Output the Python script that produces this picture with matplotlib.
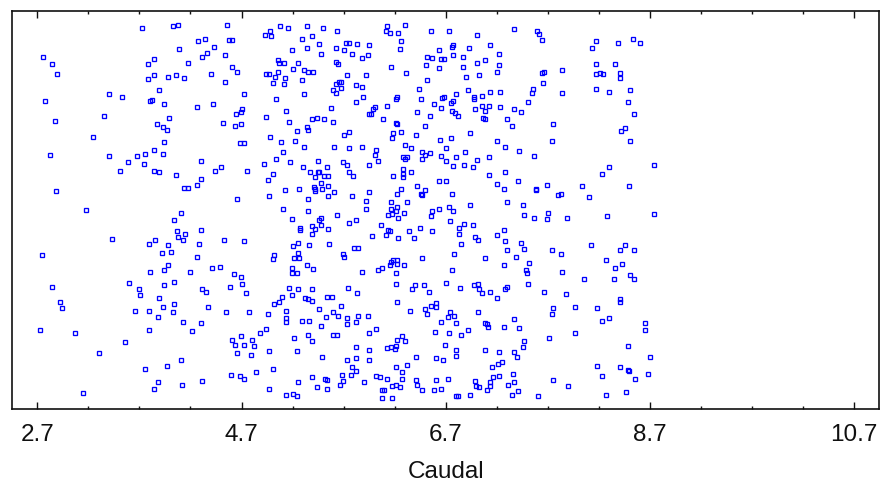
import matplotlib
matplotlib.use("Agg")
import matplotlib.pyplot as plt
import numpy as np

plt.rcParams['font.family'] = ['Liberation Sans', 'DejaVu Sans']

# values; the vertical spread is only jitter (no y axis shown)
caudal_a = [3.723,4.030,4.082,4.278,4.340,4.428,4.092,4.363,4.314,4.536,2.759,2.848,2.897,3.847,3.785,4.180,3.785,3.847,3.981,4.059,4.141,4.402,4.536,3.896,3.403,3.527,2.776,3.808,3.821,3.945,4.265,4.425,3.354,2.874,3.994,3.870,3.932,3.971,4.523,3.243,3.945,3.847,3.758,3.932,3.674,3.403,2.825,3.589,3.749,4.301,4.500,4.438,3.514,3.847,3.896,4.056,4.301,4.265,4.141,4.180,2.884]
jitter_a = [380.8,382.2,383.5,367.2,369.5,361.8,359.5,355.8,351.8,353.2,351.8,344.5,334.5,349.5,344.5,345.8,329.5,333.2,331.8,333.2,330.8,334.5,326.8,318.2,314.2,311.8,307.8,307.8,308.2,304.2,301.8,304.2,292.8,287.8,290.5,284.2,281.5,278.8,285.2,271.5,266.5,258.8,254.8,254.8,252.5,252.5,253.8,246.2,244.8,247.5,241.2,237.5,237.5,237.5,236.2,233.5,229.8,223.5,220.8,220.8,217.2]

caudal_b = [3.181,4.105,4.043,4.069,4.144,4.301,4.079,4.127,3.857,3.794,3.429,3.981,4.287,4.526,4.007,3.919,2.750,4.265,3.981,3.945,3.808,4.193,4.412,4.487,4.043,3.602,3.945,2.848,3.700,4.314,4.353,3.710,3.896,2.923,2.946,4.043,3.932,4.376,3.661,3.794,4.030,3.883,4.127,4.301,2.724,3.794,3.070,4.216,3.563,3.301,4.105,3.968,3.758,4.314,3.883,4.118,3.843,3.145]
jitter_b = [198.5,195.8,188.5,177.2,174.5,178.5,171.8,168.2,168.2,164.5,169.5,163.2,164.5,168.2,156.8,155.5,153.2,151.8,143.2,138.2,136.8,136.8,140.8,141.8,126.8,125.5,123.2,121.8,119.2,119.2,116.8,113.2,110.5,106.5,100.5,104.2,101.5,101.5,97.8,97.8,96.5,91.5,86.5,85.2,78.8,78.8,75.2,77.8,66.5,55.2,48.8,42.5,39.8,27.2,26.2,23.5,19.8,15.8]

caudal_c = [4.554,4.930,4.979,4.992,5.077,5.152,5.338,5.495,5.632,5.387,5.289,4.577,4.610,5.459,5.191,5.338,5.622,5.707,5.720,5.756,5.831,5.952,5.475,5.779,5.880,5.942,6.125,6.112,6.151,6.236,6.298,6.556,6.729,6.262,6.249,5.054,5.064,5.116,5.253,5.622,5.645,4.610,4.659,5.204,5.054,5.312,5.351,5.400,4.936,4.969,5.028,5.126,5.005,5.116,5.289,5.730,5.916,6.164,6.311,5.622,5.658,5.671,5.818,5.880,5.671,5.596,5.622,4.721,5.312,5.041,5.893,5.818,6.223,6.213,6.458,6.435,6.520,6.631,6.507,6.520,6.569,6.631,6.654,6.680,6.771,6.761,6.771,
            4.708,4.691,4.646,5.139,5.573,6.004,5.991,5.965,5.952,6.125,6.422,6.585,6.654,6.667,6.683,6.752,6.768,6.758,6.788,6.546,4.943,5.387,5.436,5.508,5.596,5.165,6.089,6.213,6.223,4.636,4.691,5.338,5.351,5.240,6.497,6.262,6.187,6.174,5.707,5.756,6.409,4.979,6.644,6.755,5.090,5.227,4.682,4.721,5.312,5.609,5.756,5.880,6.014,6.298,6.360,6.706,5.103,6.004,6.471,6.497,6.546,6.657,5.041,6.285,6.298,6.324,6.471,6.706,5.178,5.449,5.694,5.730,6.040,4.920,5.952,6.775,5.302,5.534,4.757,5.005,5.374,5.449,5.462,5.756,6.285,6.285,6.360,5.423,5.508,5.547,5.792,6.187,6.285,4.956,6.631,6.706,5.475,5.547,5.410,5.423,5.126,5.263,5.485,6.262,6.422,6.497,5.609,5.952,5.423,6.458,6.471,6.223,6.765,4.659,4.966,5.351,5.547,5.779,5.916,6.164,6.324]
jitter_c = [383.5,373.5,377.2,372.2,382.2,380.8,382.2,380.8,377.2,372.2,369.5,368.2,368.2,364.5,358.2,360.8,360.8,358.2,365.8,365.8,364.5,363.5,354.5,354.5,350.8,353.2,382.2,377.2,375.8,375.8,383.5,377.2,377.2,367.2,359.5,348.2,345.8,345.8,345.8,346.8,344.5,341.8,336.8,339.5,336.8,338.2,336.8,336.8,334.5,334.5,331.8,330.5,325.5,324.2,328.2,333.2,333.2,341.8,335.8,324.2,326.8,326.8,323.2,321.8,320.5,318.2,315.5,314.2,314.2,309.2,311.8,306.5,311.8,309.2,309.2,319.2,328.2,340.8,343.2,351.8,350.8,358.2,349.5,349.5,363.2,361.8,353.2,
            299.2,296.5,294.2,297.8,300.5,301.8,299.2,294.2,294.2,302.8,296.5,304.2,300.5,310.5,311.8,305.5,307.8,297.8,295.2,292.8,291.5,289.2,290.5,289.2,286.5,286.5,289.2,285.2,284.2,282.8,284.2,281.5,278.8,277.8,282.8,276.5,275.2,270.2,273.8,276.5,273.8,271.5,268.8,270.2,266.5,267.8,265.2,265.2,261.5,261.5,260.2,261.5,258.8,263.8,260.2,260.2,256.5,253.8,256.5,253.8,255.2,252.8,249.8,251.2,249.8,251.2,249.8,247.5,246.2,247.5,246.2,243.8,247.5,244.8,243.8,242.5,241.2,241.2,237.5,234.8,236.2,236.2,236.2,236.2,239.8,234.8,236.2,231.2,232.5,232.5,232.5,232.5,231.2,228.5,227.5,227.5,225.2,222.5,221.2,219.8,218.5,219.8,219.8,219.8,222.5,218.5,216.2,216.2,217.2,214.8,213.5,214.8,214.8,209.8,212.2,209.8,212.2,212.2,207.2,206.2,206.2]

caudal_d = [5.103,5.351,5.916,6.164,6.223,6.213,6.288,6.174,6.138,6.236,6.569,6.631,6.729,6.768,6.556,6.742,5.191,5.475,5.462,5.632,5.756,5.818,5.387,5.475,5.276,5.276,5.423,5.547,5.387,6.063,6.138,6.151,6.112,5.978,6.236,6.337,6.386,6.448,6.569,4.721,5.250,5.204,5.361,5.560,5.805,5.844,5.018,5.005,5.250,5.214,5.263,5.694,5.707,6.471,6.781,6.164,6.187,6.223,6.151,6.223,6.288,6.076,6.040,5.338,5.400,5.191,5.191,5.240,5.880,6.213,6.765,4.623,4.695,4.708,4.584,5.165,5.253,5.387,4.747,5.191,5.093,5.322,5.351,5.387,5.534,5.583,5.743,5.831,6.213,6.373,6.396,6.484,6.533,6.706,5.067,5.018,6.223,5.671,6.605,6.556,6.605,
            4.551,4.770,4.956,5.139,5.459,5.596,5.645,5.524,6.350,6.497,6.520,6.742,6.719,6.778,5.844,5.942,5.139,5.139,5.289,5.361,5.733,5.818,5.733,5.475,6.657,4.943,4.881,4.695,4.610,4.806,4.636,4.721,4.819,5.214,5.351,5.387,5.596,5.632,6.014,5.952,6.595,6.729,6.275,6.223,6.298,6.693,5.818,5.952,6.125,6.164,6.213,6.200,4.659,4.796,4.966,5.240,5.485,5.733,5.818,5.952,6.409,6.605,6.670,6.321,5.782,6.213,5.005,5.818,6.275,4.597,4.685,4.721,4.845,5.387,5.681,5.769,6.014,6.053,6.125,6.275,6.409,6.605,6.719,5.518,5.534,5.253,5.694,5.903,5.668,5.436,5.534,4.966,6.174,6.213,6.249,6.422,6.471,6.582,6.657,6.076,6.092,5.139,5.204,5.240,6.076,6.174,6.797]
jitter_d = [199.5,197.2,199.5,199.8,201.8,197.2,195.8,194.5,193.5,190.8,197.2,199.5,201.8,197.2,192.2,187.2,189.5,190.8,188.5,193.5,185.8,188.5,182.2,183.5,180.8,178.5,179.8,179.8,174.5,183.5,178.5,177.2,173.5,172.2,170.8,177.2,170.8,180.8,177.2,167.2,165.8,162.2,163.2,164.5,160.8,160.8,153.2,149.5,155.8,150.8,150.8,154.5,151.8,150.8,154.5,146.8,148.2,148.2,143.2,144.5,143.2,140.8,138.2,143.2,139.5,140.8,135.8,135.8,136.8,135.8,138.2,134.5,131.8,124.2,121.8,120.5,119.2,119.2,115.5,113.2,111.8,110.5,109.2,107.8,111.8,111.8,120.5,115.5,124.2,119.2,123.2,123.2,116.8,125.5,106.8,104.2,106.8,102.8,105.5,102.8,101.5,
            96.5,96.5,94.2,97.8,99.2,96.5,92.8,91.5,97.8,99.2,94.2,96.5,91.5,92.8,92.8,92.8,90.2,86.5,87.8,87.8,90.2,86.5,84.2,82.8,86.5,79.2,75.2,72.8,68.8,68.8,63.8,63.8,62.8,70.2,73.8,67.8,73.8,73.8,79.2,75.2,76.5,75.2,72.8,68.8,67.8,63.8,61.5,58.8,60.2,61.5,62.8,59.5,55.2,53.8,57.8,57.8,51.2,48.8,50.2,48.8,51.2,50.2,48.8,43.8,41.2,41.2,39.8,37.5,36.2,33.5,32.5,29.8,36.2,31.2,33.5,33.5,32.5,31.2,29.8,29.8,28.8,28.5,29.8,29.8,28.8,26.2,27.5,26.2,23.5,21.2,19.8,19.8,22.5,23.5,21.2,23.5,18.5,18.5,19.8,18.5,18.5,13.5,14.8,12.2,10.8,10.8,12.2]

caudal_e = [7.372,7.594,7.617,7.643,7.003,7.137,6.928,7.225,6.866,7.088,7.003,7.225,6.866,7.199,7.026,6.902,7.643,7.666,7.839,7.656,8.172,8.136,8.384,8.531,8.603,8.172,8.358,8.172,8.211,8.237,8.407,8.407,6.804,6.915,6.977,6.977,7.052,7.137,7.235,7.558,7.542,7.839,8.172,8.296,8.505,8.482,7.506,7.052,7.124,7.235,6.990,7.088,7.372,7.434,6.817,8.541,7.065,7.088,7.297,7.346,7.754,8.456,8.417,6.941,7.199,7.741,8.505,7.284,6.889,7.421,6.804,7.003,7.127,7.568,6.879,6.964,8.740,8.296,8.234,7.127,7.284,7.199,7.408,7.274,7.581,7.581,7.692,8.038,8.492,7.800,7.829,8.100,6.941,7.297,7.457]
jitter_e = [379.5,377.2,374.8,368.5,373.5,363.5,360.8,354.5,351.8,348.2,345.8,343.2,341.8,336.8,333.2,331.8,335.8,336.8,338.2,325.5,367.2,360.8,365.8,369.5,365.8,344.5,344.5,334.5,335.8,334.5,335.8,330.5,314.2,318.2,311.8,309.2,312.8,316.8,316.8,319.2,315.5,315.5,319.2,316.8,318.2,306.5,306.5,302.8,302.8,301.5,299.2,297.8,299.2,296.5,292.8,294.2,290.5,289.2,289.2,282.8,284.2,280.2,277.8,275.2,267.5,267.5,267.5,261.5,256.5,257.5,251.5,248.8,251.5,252.5,243.8,241.2,243.8,241.2,234.8,233.5,236.2,224.8,227.5,219.8,219.8,218.5,223.5,222.5,222.5,213.5,214.8,211.2,203.5,206.2,203.5]

caudal_f = [7.470,7.568,7.702,7.692,7.888,8.283,8.740,6.876,6.964,6.827,6.827,7.274,7.199,6.987,7.013,7.284,7.434,6.853,7.470,7.297,7.741,7.829,8.123,8.456,8.407,8.541,7.385,7.088,7.519,7.274,8.273,8.430,8.358,7.483,7.496,7.839,8.051,8.345,8.505,8.541,7.506,7.016,6.974,6.840,7.026,7.297,7.284,7.052,7.137,7.199,7.666,7.878,8.407,8.407,7.754,7.963,8.185,7.741,7.016,7.372,8.234,8.296,8.655,8.655,6.804,7.088,7.101,7.114,7.274,7.421,6.915,6.853,7.963,7.715,7.470,7.457,8.482,6.801,6.801,7.088,7.225,7.372,7.395,8.701,7.248,7.209,7.150,8.185,8.407,8.482,8.492,7.359,7.225,7.163,8.678,8.234,8.554,6.987,7.372,7.137,7.754,7.000,7.026,7.137,7.310,7.101,7.901,7.408,8.469,6.817,6.941,7.346,7.604,8.273]
jitter_f = [193.5,190.8,195.8,189.8,190.8,192.2,194.8,184.5,183.5,180.8,174.5,178.5,173.2,171.8,168.2,167.2,165.8,164.5,159.5,158.2,158.2,154.5,163.2,163.2,158.2,158.2,151.8,150.8,145.8,143.2,148.2,144.5,140.8,138.2,135.8,136.8,129.5,129.5,133.2,129.5,124.2,124.2,123.2,120.5,119.2,121.8,119.2,115.5,116.8,110.5,116.8,114.2,109.2,106.5,100.5,101.5,100.5,94.2,96.5,89.2,87.8,90.2,85.2,78.8,85.2,85.2,84.2,81.5,81.5,80.2,78.8,73.8,75.2,70.2,67.8,61.5,62.5,58.8,52.5,58.8,56.5,56.5,51.2,51.2,46.2,44.8,41.2,42.5,41.2,38.8,37.5,34.8,32.5,31.2,34.8,32.5,29.8,27.5,26.2,26.2,28.5,22.5,21.2,22.2,23.5,18.5,22.5,17.5,16.2,12.2,13.5,13.5,12.2,13.5]

major_ticks = [2.7, 4.7, 6.7, 8.7, 10.7]
tick_labels = ['2.7', '4.7', '6.7', '8.7', '10.7']

caudal = caudal_a + caudal_b + caudal_c + caudal_d + caudal_e + caudal_f
jitter = jitter_a + jitter_b + jitter_c + jitter_d + jitter_e + jitter_f

fig = plt.figure(figsize=(8.81, 4.82), dpi=100)
ax = fig.add_axes([12 / 881, 1 - 408.5 / 482, 867.3 / 881, 397.5 / 482])
ax.plot(caudal, jitter, linestyle='none', marker='s', markersize=3.5,
        markerfacecolor='none', markeredgecolor='#0000ff', markeredgewidth=0.95)

ax.set_xlim(2.452, 10.947)
ax.set_ylim(0, 397.5)
ax.set_yticks([])
ax.set_xticks(major_ticks)
ax.set_xticklabels(tick_labels, fontsize=17.5)
ax.set_xticks(np.arange(3.2, 10.7, 0.5), minor=True)
ax.tick_params(axis='x', which='major', direction='in', length=5, width=1, top=True, pad=11, color='#101010')
ax.tick_params(axis='x', which='minor', direction='in', length=2.5, width=1, top=True, color='#101010')
ax.set_xlabel('Caudal', fontsize=17.5, labelpad=11, color='#101010')
for lab in ax.get_xticklabels():
    lab.set_color('#101010')
for s in ax.spines.values():
    s.set_linewidth(1.2)
    s.set_color('#101010')

fig.savefig('out.png', dpi=100)
